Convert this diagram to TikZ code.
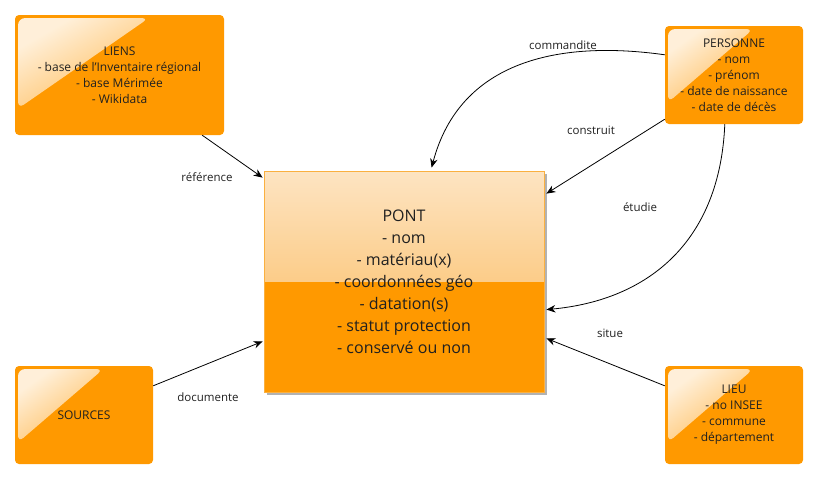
\documentclass[tikz,border=0pt]{standalone}
\usepackage{fontspec}
\setmainfont{Open Sans}
\usetikzlibrary{arrows.meta,calc,fadings,shadows}
\definecolor{boxor}{HTML}{FF9900}
\definecolor{ponttop}{HTML}{FDE4C2}
\definecolor{pontmid}{HTML}{FBB550}
\definecolor{pontedge}{HTML}{FAB040}
\definecolor{txt}{HTML}{202020}
\tikzfading[name=glossfade, top color=transparent!15, bottom color=transparent!94]
\tikzset{
  entity/.style={fill=boxor, rounded corners=4pt, minimum width=138pt, minimum height=98pt,
    inner sep=0pt, align=center, font=\fontsize{12}{16}\selectfont, text=txt,
    path picture={
      \fill[white, path fading=glossfade, fading angle=45, rounded corners=7pt]
        let \p1=(path picture bounding box.north west),
            \p2=(path picture bounding box.south east),
            \n1={\x2-\x1}, \n2={\y1-\y2} in
        (\x1+3pt,\y1-3pt) -- (\x1+0.64*\n1,\y1-3pt) -- (\x1+3pt,\y1-0.78*\n2) -- cycle;
    }},
  pontbox/.style={fill=boxor, draw=pontedge, line width=0.8pt, minimum width=280pt,
    minimum height=221pt, inner sep=0pt, align=center, text=txt,
    font=\fontsize{16}{22}\selectfont,
    drop shadow={shadow xshift=2.5pt, shadow yshift=-2.5pt, opacity=0.3, fill=black},
    path picture={
      \shade[top color=ponttop, bottom color=pontmid]
        (path picture bounding box.north west) rectangle (path picture bounding box.east);
    }},
  lbl/.style={font=\fontsize{11.5}{14}\selectfont, inner sep=1pt, text=txt},
  conn/.style={-{Stealth[length=9pt,width=7.5pt]}, line width=0.8pt, black},
}
\begin{document}
\begin{tikzpicture}[x=1pt,y=-1pt]
\useasboundingbox (0,0) rectangle (819,480);

\node[entity, minimum width=209pt, minimum height=120pt] (liens) at (119.5,75)
  {LIENS\\- base de l'Inventaire régional\\- base Mérimée\\- Wikidata};
\node[entity] (pers) at (734,75)
  {PERSONNE\\- nom\\- prénom\\- date de naissance\\- date de décès};
\node[entity] (sources) at (84,415) {SOURCES};
\node[entity] (lieu) at (734,415)
  {LIEU\\- no INSEE\\- commune\\- département};
\node[pontbox] (pont) at (404,281.5)
  {PONT\\- nom\\- matériau(x)\\- coordonnées géo\\- datation(s)\\- statut protection\\- conservé ou non};

\draw[conn] ($(liens.south east)+(-22,0)$) -- ($(pont.north west)+(-1,7)$);
\draw[conn] ($(sources.north east)+(0,20)$) -- ($(pont.south west)+(-1,-51)$);
\draw[conn] ($(pers.north west)+(0,29)$) .. controls (560,40) and (460,60) .. ($(pont.north west)+(168,-3)$);
\draw[conn] ($(pers.south west)+(0,-5)$) -- ($(pont.north east)+(2,23)$);
\draw[conn] ($(pers.south west)+(60,0)$) .. controls (720,240) and (650,300) .. ($(pont.north east)+(2,139)$);
\draw[conn] ($(lieu.north west)+(0,20)$) -- ($(pont.south east)+(2,-54)$);

\node[lbl] (lref) at (207,177) {référence};
\node[lbl] (ldoc) at (208,397) {documente};
\node[lbl] (lcom) at (563,45) {commandite};
\node[lbl] (lcon) at (591,130) {construit};
\node[lbl] (letu) at (640,207) {étudie};
\node[lbl] (lsit) at (610,333) {situe};
\end{tikzpicture}
\end{document}
